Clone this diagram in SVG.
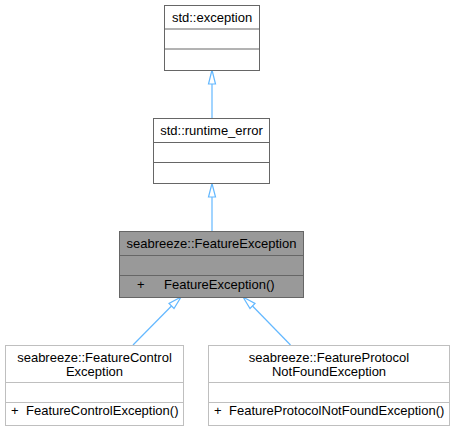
<svg xmlns="http://www.w3.org/2000/svg" width="455" height="431" viewBox="0 0 455 431">
<style>
text{font-family:"Liberation Sans",Arial,sans-serif;font-size:13px;fill:#000}
.c{text-anchor:middle}
.dk{fill:#fff;stroke:#666;stroke-width:1}
.lt{fill:#fff;stroke:#bfbfbf;stroke-width:1}
.cur{fill:#999;stroke:#666;stroke-width:1}
.ln{stroke:#666;stroke-width:1}
.lnl{stroke:#bfbfbf;stroke-width:1}
.e{fill:none;stroke:#63b8ff;stroke-width:1.2}
</style>
<rect width="455" height="431" fill="#fff"/>
<g id="connectors">
<path class="e" d="M212,118 V84"/>
<polygon class="e" points="212,70 208.5,84 215.5,84"/>
<path class="e" d="M212,231.5 V197"/>
<polygon class="e" points="212,183.5 208.5,197 215.5,197"/>
<path class="e" d="M133,345 L171.5,306"/>
<polygon class="e" points="181,297 169,303.5 174,308.5"/>
<path class="e" d="M290.5,345 L252.5,306"/>
<polygon class="e" points="243,297 250,308.5 255,303.5"/>
</g>
<g id="std_exception">
<rect class="dk" x="164.5" y="5.5" width="95" height="65"/>
<line class="ln" x1="164.5" y1="29" x2="259.5" y2="29"/>
<line class="ln" x1="164.5" y1="49" x2="259.5" y2="49"/>
<text class="c" x="212" y="22">std::exception</text>
</g>
<g id="std_runtime_error">
<rect class="dk" x="153.5" y="118.5" width="116" height="65"/>
<line class="ln" x1="153.5" y1="142.5" x2="269.5" y2="142.5"/>
<line class="ln" x1="153.5" y1="162.5" x2="269.5" y2="162.5"/>
<text class="c" x="211.5" y="135">std::runtime_error</text>
</g>
<g id="FeatureException">
<rect class="cur" x="119.5" y="231.5" width="184" height="66"/>
<line class="ln" x1="119.5" y1="255.5" x2="303.5" y2="255.5"/>
<line class="ln" x1="119.5" y1="275.5" x2="303.5" y2="275.5"/>
<text class="c" x="211.5" y="248">seabreeze::FeatureException</text>
<text x="137" y="289">+</text>
<text x="164" y="289">FeatureException()</text>
</g>
<g id="FeatureControlException">
<rect class="lt" x="5.5" y="345.5" width="178" height="80"/>
<line class="lnl" x1="5.5" y1="382.5" x2="183.5" y2="382.5"/>
<line class="lnl" x1="5.5" y1="402.5" x2="183.5" y2="402.5"/>
<text class="c" x="94.5" y="362">seabreeze::FeatureControl</text>
<text class="c" x="94.5" y="375.5">Exception</text>
<text x="11" y="415">+</text>
<text x="26" y="415">FeatureControlException()</text>
</g>
<g id="FeatureProtocolNotFoundException">
<rect class="lt" x="208.5" y="345.5" width="241" height="80"/>
<line class="lnl" x1="208.5" y1="382.5" x2="449.5" y2="382.5"/>
<line class="lnl" x1="208.5" y1="402.5" x2="449.5" y2="402.5"/>
<text class="c" x="329" y="362">seabreeze::FeatureProtocol</text>
<text class="c" x="329" y="375.5">NotFoundException</text>
<text x="214" y="415">+</text>
<text x="229" y="415">FeatureProtocolNotFoundException()</text>
</g>
</svg>
